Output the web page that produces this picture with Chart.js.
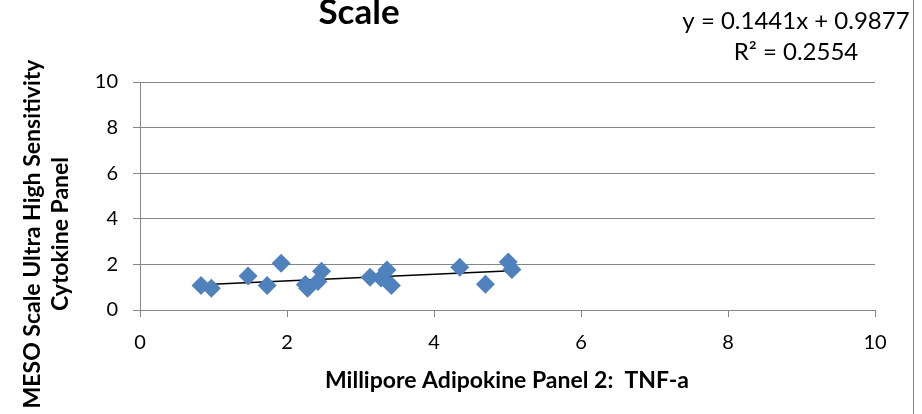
<!DOCTYPE html>
<html>
<head>
<meta charset="utf-8">
<script src="https://cdn.jsdelivr.net/npm/chart.js@4/dist/chart.umd.min.js"></script>
<style>
  html, body { margin: 0; padding: 0; background: #fff; }
  #wrap { width: 922px; height: 414px; position: relative; }
</style>
</head>
<body>
<div id="wrap"><canvas id="chart" width="922" height="414"></canvas></div>
<script>
/* ── Data ────────────────────────────────────────────────── */
const tnfX  = [0.83, 0.97, 1.47, 1.73, 1.92, 2.25, 2.28, 2.42, 2.47, 3.13, 3.28, 3.36, 3.42, 4.35, 4.70, 5.01, 5.06];
const mesoY = [1.07, 0.95, 1.49, 1.07, 2.05, 1.12, 0.95, 1.25, 1.70, 1.44, 1.40, 1.75, 1.08, 1.87, 1.13, 2.10, 1.78];
const xTicks = [0, 2, 4, 6, 8, 10];
const yTicks = [0, 2, 4, 6, 8, 10];
const slope = 0.1441, intercept = 0.9877;
const rSquared = 0.2554;

const FONT = 'Lato, "Open Sans", sans-serif';
const GRID = '#868686';
const BLUE = '#4F81BD';

const points = tnfX.map((x, i) => ({ x, y: mesoY[i] }));
const xMin = Math.min(...tnfX), xMax = Math.max(...tnfX);
const trend = [xMin, xMax].map(x => ({ x, y: slope * x + intercept }));

// ── Titles, trendline label and frame drawn on top ─────────
const textPlugin = {
  id: 'texts',
  afterDraw(chart) {
    const ctx = chart.ctx;
    ctx.save();
    ctx.fillStyle = '#000';
    ctx.textAlign = 'center';
    ctx.textBaseline = 'alphabetic';

    ctx.font = 'bold 35px ' + FONT;
    ctx.fillText('Scale', 359, 24);

    ctx.font = '24px ' + FONT;
    ctx.fillText(`y = ${slope}x + ${intercept}`, 796, 29);
    ctx.fillText(`R\u00b2 = ${rSquared}`, 796, 60);

    ctx.font = 'bold 23px ' + FONT;
    ctx.fillText('Millipore Adipokine Panel 2:  TNF-a', 507, 388);

    ctx.translate(0, 234);
    ctx.rotate(-Math.PI / 2);
    ctx.fillText('MESO Scale Ultra High Sensitivity', 0, 40);
    ctx.fillText('Cytokine Panel', 0, 68);
    ctx.restore();

    ctx.save();
    ctx.strokeStyle = GRID;
    ctx.lineWidth = 1;
    ctx.beginPath();
    ctx.moveTo(913.5, 0);
    ctx.lineTo(913.5, 414);
    ctx.stroke();
    ctx.restore();
  }
};

function draw() {
  new Chart(document.getElementById('chart'), {
    type: 'scatter',
    data: {
      datasets: [
        {
          label: 'MESO vs Millipore',
          data: points,
          pointStyle: 'rectRot',
          pointRadius: 9.5,
          pointHoverRadius: 9.5,
          backgroundColor: BLUE,
          borderColor: BLUE,
          borderWidth: 0
        },
        {
          label: 'Linear trend',
          type: 'line',
          data: trend,
          borderColor: '#000',
          borderWidth: 1.5,
          pointRadius: 0,
          fill: false
        }
      ]
    },
    options: {
      responsive: false,
      animation: false,
      devicePixelRatio: 1,
      layout: { padding: { left: 0, right: 47, top: 82, bottom: 0 } },
      plugins: {
        legend: { display: false },
        tooltip: { enabled: false }
      },
      scales: {
        x: {
          type: 'linear',
          min: 0, max: 10,
          afterBuildTicks: s => { s.ticks = xTicks.map(v => ({ value: v })); },
          afterFit: s => { s.height = 104; },
          grid: { drawOnChartArea: false, drawTicks: true, tickLength: 7, color: GRID },
          border: { color: GRID },
          ticks: { padding: 14, color: '#000', font: { family: FONT, size: 20 } }
        },
        y: {
          type: 'linear',
          min: 0, max: 10,
          afterBuildTicks: s => { s.ticks = yTicks.map(v => ({ value: v })); },
          afterFit: s => { s.width = 140; },
          grid: { drawTicks: true, tickLength: 7, color: GRID },
          border: { color: GRID },
          ticks: { padding: 15, color: '#000', font: { family: FONT, size: 20 } }
        }
      }
    },
    plugins: [textPlugin]
  });
}

Promise.all([
  document.fonts.load('20px Lato'),
  document.fonts.load('bold 20px Lato')
]).then(draw, draw);
</script>
</body>
</html>
